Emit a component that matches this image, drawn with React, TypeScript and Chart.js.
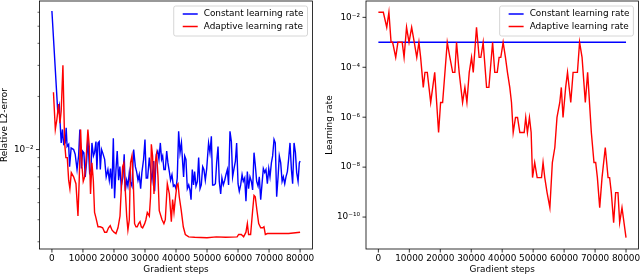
import React, { useEffect, useRef } from "react";
import { Chart, registerables } from "chart.js";
Chart.register(...registerables);

const FONT = "DejaVu Sans";

const stepTicks = [0, 10000, 20000, 30000, 40000, 50000, 60000, 70000, 80000];
const seriesLabels = ["Constant learning rate", "Adaptive learning rate"];
const seriesColors = ["#0000ff", "#ff0000"];

// Left panel: relative L2-error
const errConstSteps = [0, 1900, 2400, 2700, 3000, 3400, 3800, 4300, 4600, 4900, 5400, 5700, 6200, 7000, 7500, 8100, 8600, 9000, 9500, 9900, 10300, 10750, 11200, 11600, 12150, 12600, 12900, 13400, 13750, 14200, 14500, 14850, 15250, 15600, 16000, 16350, 17000, 17500, 18050, 18500, 18900, 19350, 19800, 20200, 20650, 21050, 21500, 21900, 22350, 22900, 23300, 23650, 24100, 24500, 24950, 25250, 25800, 26350, 26900, 27300, 27750, 28150, 28600, 29000, 29550, 30000, 30400, 30850, 31400, 31900, 32250, 32800, 33100, 33650, 34100, 34500, 34950, 35350, 35700, 36100, 36550, 37000, 37400, 37850, 38250, 38700, 39150, 39550, 40000, 40400, 40850, 41300, 41750, 42150, 42450, 42800, 43200, 43650, 44100, 44500, 44850, 45250, 45650, 46000, 46450, 46900, 47300, 47750, 48150, 48600, 49000, 49450, 49900, 50500, 50950, 51400, 51800, 52250, 52700, 53100, 53550, 53950, 54400, 54800, 55250, 55700, 56100, 56550, 56950, 57400, 57850, 58250, 58700, 59150, 59550, 60000, 60400, 60850, 61300, 61700, 62150, 62550, 63000, 63400, 63850, 64300, 64700, 65150, 65550, 66000, 66450, 66850, 67300, 67700, 68150, 68600, 69000, 69450, 69900, 70300, 70750, 71150, 71600, 72000, 72450, 72900, 73300, 73750, 74200, 74600, 75050, 75450, 75900, 76300, 76750, 77200, 77600, 78050, 78500, 78900, 79350, 79750, 80000];
const errConstValues = [0.061, 0.0162, 0.0177, 0.0136, 0.0109, 0.013, 0.0107, 0.0109, 0.0133, 0.0104, 0.0107, 0.008, 0.0102, 0.01, 0.0094, 0.0077, 0.0092, 0.013, 0.0078, 0.0098, 0.0096, 0.007, 0.0086, 0.0116, 0.0074, 0.0077, 0.0109, 0.0092, 0.0096, 0.0111, 0.0077, 0.0109, 0.0111, 0.0077, 0.01, 0.0096, 0.0088, 0.007, 0.0077, 0.0067, 0.0078, 0.006, 0.0116, 0.0053, 0.0077, 0.0098, 0.0067, 0.008, 0.0062, 0.007, 0.0094, 0.0058, 0.0067, 0.0062, 0.0074, 0.0066, 0.0062, 0.01, 0.008, 0.0075, 0.0067, 0.0072, 0.006, 0.0074, 0.0088, 0.0114, 0.0069, 0.0069, 0.009, 0.0074, 0.0067, 0.0086, 0.0058, 0.0094, 0.0098, 0.0088, 0.0109, 0.0088, 0.0092, 0.0077, 0.0077, 0.0098, 0.0084, 0.0075, 0.0067, 0.0072, 0.0062, 0.0063, 0.006, 0.0069, 0.0127, 0.0096, 0.0109, 0.0084, 0.007, 0.0092, 0.0088, 0.006, 0.0063, 0.0059, 0.0052, 0.0077, 0.0063, 0.0075, 0.0062, 0.0066, 0.009, 0.006, 0.0063, 0.008, 0.0077, 0.0067, 0.0078, 0.0109, 0.0096, 0.0119, 0.0063, 0.0063, 0.0064, 0.0084, 0.0104, 0.0066, 0.0056, 0.0069, 0.0063, 0.0067, 0.0072, 0.0077, 0.0063, 0.0127, 0.0111, 0.007, 0.0078, 0.0086, 0.0109, 0.0064, 0.0058, 0.0063, 0.0072, 0.0066, 0.0069, 0.0051, 0.0075, 0.006, 0.007, 0.0066, 0.0059, 0.0096, 0.0082, 0.0066, 0.0062, 0.007, 0.0052, 0.0063, 0.0078, 0.0074, 0.0077, 0.0064, 0.0078, 0.007, 0.0084, 0.0092, 0.0114, 0.0109, 0.0054, 0.007, 0.0092, 0.0084, 0.0066, 0.007, 0.0064, 0.007, 0.0075, 0.0088, 0.0109, 0.0077, 0.0064, 0.0109, 0.0096, 0.0074, 0.0066, 0.0084, 0.0086];

const errAdaptSteps = [500, 1100, 1600, 2150, 2600, 3000, 3550, 4100, 4500, 4950, 5400, 5800, 6250, 7000, 7750, 8400, 8800, 9250, 9700, 10100, 10550, 10950, 11600, 12050, 12450, 12900, 13350, 13750, 14200, 14850, 15600, 16350, 17000, 17650, 18250, 18800, 19350, 20000, 20650, 21300, 21950, 22350, 22800, 23200, 23650, 24100, 24500, 24950, 25350, 25800, 26250, 26650, 27100, 27500, 27950, 28400, 28800, 29250, 29900, 30300, 30750, 31400, 31800, 32050, 32450, 32900, 33300, 33750, 34200, 34600, 35500, 36100, 36550, 37200, 37850, 38500, 38900, 39350, 39750, 40300, 40650, 41050, 41700, 42350, 43000, 44100, 46000, 50000, 53000, 56000, 59700, 60200, 61050, 61800, 62550, 63000, 63400, 64050, 64700, 65150, 65550, 66100, 66650, 67300, 67950, 68350, 68800, 69450, 73000, 76300, 80000];
const errAdaptValues = [0.0211, 0.013, 0.0148, 0.0181, 0.0141, 0.0166, 0.03, 0.0109, 0.009, 0.009, 0.0067, 0.006, 0.0074, 0.007, 0.0064, 0.0042, 0.0067, 0.013, 0.008, 0.0066, 0.007, 0.0084, 0.013, 0.0104, 0.0056, 0.0084, 0.0067, 0.0044, 0.0041, 0.00365, 0.00365, 0.0036, 0.0034, 0.0034, 0.0036, 0.0037, 0.0035, 0.0034, 0.00334, 0.0036, 0.0042, 0.0059, 0.008, 0.0084, 0.0059, 0.0042, 0.0035, 0.004, 0.0084, 0.0092, 0.0064, 0.0038, 0.00365, 0.00365, 0.0038, 0.0039, 0.00365, 0.0036, 0.0038, 0.004, 0.0044, 0.0042, 0.0054, 0.0107, 0.0092, 0.0056, 0.0084, 0.0094, 0.007, 0.0045, 0.004, 0.0038, 0.004, 0.0064, 0.0056, 0.0039, 0.0052, 0.0044, 0.0052, 0.0063, 0.0064, 0.0054, 0.0045, 0.00365, 0.0033, 0.0032, 0.00318, 0.00316, 0.0032, 0.00318, 0.0032, 0.0033, 0.0033, 0.0032, 0.0034, 0.0038, 0.0033, 0.0033, 0.0045, 0.0055, 0.0054, 0.0045, 0.0038, 0.0036, 0.0036, 0.00365, 0.0033, 0.00334, 0.00334, 0.00334, 0.0034];

// Right panel: learning rate
const lrConstSteps = [0, 80000];
const lrConstValues = [1e-3, 1e-3];
const lrAdaptSteps = [0, 1600, 2700, 3400, 4100, 4600, 5600, 6300, 7700, 8300, 9100, 9900, 10750, 11600, 12400, 13100, 13650, 14500, 15050, 15800, 16900, 18200, 19450, 20100, 20750, 22250, 23100, 24000, 24700, 25250, 26100, 27200, 27950, 28600, 29350, 30100, 30650, 31700, 32550, 33100, 33850, 34950, 35700, 36900, 37600, 38400, 39000, 39550, 40300, 41050, 41700, 42450, 43000, 43550, 44300, 44950, 45700, 46450, 47100, 47600, 48150, 48800, 49350, 49800, 50500, 51300, 52150, 52700, 53200, 53750, 54500, 55400, 56200, 57000, 57700, 58600, 59100, 59650, 60500, 61100, 62150, 62900, 63750, 64300, 65000, 65800, 66850, 67600, 68800, 69650, 70200, 70750, 71500, 72250, 73300, 74200, 74700, 75250, 76000, 76650, 77400, 77950, 78700, 80000];
const lrAdaptValues = [1.6e-2, 1.6e-2, 4e-3, 1.6e-2, 1e-3, 1e-3, 2.5e-4, 1e-3, 1e-3, 2.5e-4, 4e-3, 1e-3, 4e-3, 1e-3, 2.5e-4, 1e-3, 2.5e-4, 1.56e-5, 6.25e-5, 6.25e-5, 3.9e-6, 6.25e-5, 2.44e-7, 3.9e-6, 3.9e-6, 1e-3, 2.5e-4, 6.25e-5, 6.25e-5, 1e-3, 6.25e-5, 3.9e-6, 1.56e-5, 3.9e-6, 6.25e-5, 2.5e-4, 6.25e-5, 4e-3, 2.5e-4, 2.5e-4, 1e-3, 1.56e-5, 1.56e-5, 1e-3, 6.25e-5, 6.25e-5, 2.5e-4, 2.5e-4, 1e-3, 2.5e-4, 6.25e-5, 1.56e-5, 3.9e-6, 2.44e-7, 9.77e-7, 9.77e-7, 2.44e-7, 2.44e-7, 2.44e-7, 9.77e-7, 2.44e-7, 9.77e-7, 2.44e-7, 3.81e-9, 1.53e-8, 3.81e-9, 3.81e-9, 3.81e-9, 1.53e-8, 3.81e-9, 9.54e-10, 2.38e-10, 1.53e-8, 6.1e-8, 9.77e-7, 3.9e-6, 1.56e-5, 9.77e-7, 1.56e-5, 6.25e-5, 3.9e-6, 6.25e-5, 6.25e-5, 6.25e-5, 1e-3, 2.5e-4, 3.9e-6, 6.25e-5, 2.44e-7, 1.53e-8, 1.53e-8, 3.81e-9, 2.38e-10, 3.81e-9, 6.1e-8, 3.81e-9, 3.81e-9, 9.54e-10, 5.96e-11, 9.54e-10, 9.54e-10, 5.96e-11, 2.38e-10, 1.49e-11];

const errTickValues = [3e-3, 4e-3, 5e-3, 6e-3, 7e-3, 8e-3, 9e-3, 1e-2, 2e-2, 3e-2, 4e-2, 5e-2, 6e-2];
const errMajorValues = [1e-2];
const errMajorLabels = ["10\u207B\u00B2"];
const lrTickValues = [1e-2, 1e-4, 1e-6, 1e-8, 1e-10];
const lrMajorValues = [1e-2, 1e-4, 1e-6, 1e-8, 1e-10];
const lrMajorLabels = ["10\u207B\u00B2", "10\u207B\u2074", "10\u207B\u2076", "10\u207B\u2078", "10\u207B\u00B9\u2070"];

const near = (a: number, b: number) => Math.abs(Math.log10(a) - Math.log10(b)) < 1e-6;

function pts(xs: number[], ys: number[]) {
  return xs.map((x, i) => ({ x, y: ys[i] }));
}

const framePlugin = {
  id: "frameTicks",
  afterDraw(chart: any, _a: any, opts: any) {
    const { ctx, chartArea } = chart;
    const { left, right, top, bottom } = chartArea;
    ctx.save();
    ctx.strokeStyle = "#000";
    ctx.lineWidth = 0.8;
    ctx.strokeRect(left, top, right - left, bottom - top);
    const xs = chart.scales.x;
    xs.ticks.forEach((t: any) => {
      const px = xs.getPixelForValue(t.value);
      ctx.beginPath();
      ctx.moveTo(px, bottom);
      ctx.lineTo(px, bottom + 3.5);
      ctx.stroke();
    });
    const ys = chart.scales.y;
    ys.ticks.forEach((t: any) => {
      const py = ys.getPixelForValue(t.value);
      const major = opts.majors.some((m: number) => near(m, t.value));
      ctx.lineWidth = major ? 0.8 : 0.6;
      ctx.beginPath();
      ctx.moveTo(left, py);
      ctx.lineTo(left - (major ? 3.5 : 2), py);
      ctx.stroke();
    });
    ctx.restore();
  },
};

const legendPlugin = {
  id: "innerLegend",
  afterDraw(chart: any) {
    const { ctx, chartArea } = chart;
    ctx.save();
    ctx.font = `8.9px "${FONT}"`;
    const tw = Math.max(...seriesLabels.map((s) => ctx.measureText(s).width));
    const w = 30 + tw + 4;
    const h = 30;
    const x0 = chartArea.right - 5 - w;
    const y0 = chartArea.top + 5;
    ctx.beginPath();
    const r = 2;
    ctx.moveTo(x0 + r, y0);
    ctx.arcTo(x0 + w, y0, x0 + w, y0 + h, r);
    ctx.arcTo(x0 + w, y0 + h, x0, y0 + h, r);
    ctx.arcTo(x0, y0 + h, x0, y0, r);
    ctx.arcTo(x0, y0, x0 + w, y0, r);
    ctx.closePath();
    ctx.fillStyle = "rgba(255,255,255,0.8)";
    ctx.fill();
    ctx.strokeStyle = "#cccccc";
    ctx.lineWidth = 0.8;
    ctx.stroke();
    seriesLabels.forEach((s, i) => {
      const yy = y0 + 8 + i * 12.5;
      ctx.strokeStyle = seriesColors[i];
      ctx.lineWidth = 1.5;
      ctx.beginPath();
      ctx.moveTo(x0 + 9, yy);
      ctx.lineTo(x0 + 24, yy);
      ctx.stroke();
      ctx.fillStyle = "#000";
      ctx.textBaseline = "middle";
      ctx.textAlign = "left";
      ctx.fillText(s, x0 + 30, yy);
    });
    ctx.restore();
  },
};

function buildConfig(p: {
  constData: any[];
  adaptData: any[];
  yMin: number;
  yMax: number;
  yTicks: number[];
  majors: number[];
  majorLabels: string[];
  yTitle: string;
  yWidth: number;
  yTitlePad: number;
  padRight: number;
}): any {
  const tickFont = { family: FONT, size: 8.9 };
  return {
    type: "line",
    data: {
      datasets: [
        {
          label: seriesLabels[1],
          data: p.adaptData,
          borderColor: seriesColors[1],
          borderWidth: 1.4,
          pointRadius: 0,
          tension: 0,
          fill: false,
        },
        {
          label: seriesLabels[0],
          data: p.constData,
          borderColor: seriesColors[0],
          borderWidth: 1.4,
          pointRadius: 0,
          tension: 0,
          fill: false,
        },
      ],
    },
    options: {
      animation: false,
      responsive: false,
      devicePixelRatio: 1,
      layout: { padding: { top: 1, right: p.padRight, left: 0, bottom: 0 } },
      plugins: {
        legend: { display: false },
        tooltip: { enabled: false },
        frameTicks: { majors: p.majors },
      },
      scales: {
        x: {
          type: "linear",
          bounds: "data",
          min: -4000,
          max: 84000,
          afterBuildTicks: (s: any) => {
            s.ticks = stepTicks.map((v) => ({ value: v }));
          },
          afterFit: (s: any) => {
            s.height = 27;
            s.paddingLeft = 0;
            s.paddingRight = 0;
            s.paddingTop = 0;
            s.paddingBottom = 0;
          },
          grid: { display: false, drawTicks: false },
          border: { display: false },
          ticks: {
            autoSkip: false,
            maxRotation: 0,
            padding: 4.5,
            color: "#000",
            font: tickFont,
            callback: (v: any) => String(v),
          },
          title: {
            display: true,
            text: "Gradient steps",
            color: "#000",
            font: { family: FONT, size: 8.9, lineHeight: 1 },
            padding: { top: 0, bottom: 2 },
          },
        },
        y: {
          type: "logarithmic",
          bounds: "data",
          min: p.yMin,
          max: p.yMax,
          afterBuildTicks: (s: any) => {
            s.ticks = p.yTicks.map((v) => ({ value: v }));
          },
          afterDataLimits: (s: any) => {
            s.min = p.yMin;
            s.max = p.yMax;
          },
          afterFit: (s: any) => {
            s.width = p.yWidth;
            s.paddingLeft = 0;
            s.paddingRight = 0;
            s.paddingTop = 0;
            s.paddingBottom = 0;
          },
          grid: { display: false, drawTicks: false },
          border: { display: false },
          ticks: {
            autoSkip: false,
            padding: 6,
            color: "#000",
            font: tickFont,
            callback: (v: any) => {
              const i = p.majors.findIndex((m) => near(m, Number(v)));
              return i >= 0 ? p.majorLabels[i] : "";
            },
          },
          title: {
            display: true,
            text: p.yTitle,
            color: "#000",
            font: { family: FONT, size: 8.9, lineHeight: 1 },
            padding: { top: p.yTitlePad, bottom: 0 },
          },
        },
      },
    },
    plugins: [framePlugin, legendPlugin],
  };
}

function Panel(props: { cfg: any; left: number }) {
  const ref = useRef<HTMLCanvasElement | null>(null);
  useEffect(() => {
    if (!ref.current) return;
    const chart = new Chart(ref.current, props.cfg);
    return () => chart.destroy();
  }, []);
  return (
    <canvas
      ref={ref}
      width={320}
      height={276}
      style={{ position: "absolute", left: props.left, top: 0, width: 320, height: 276 }}
    />
  );
}

export default function App() {
  const leftCfg = buildConfig({
    constData: pts(errConstSteps, errConstValues),
    adaptData: pts(errAdaptSteps, errAdaptValues),
    yMin: 2.73e-3,
    yMax: 0.0695,
    yTicks: errTickValues,
    majors: errMajorValues,
    majorLabels: errMajorLabels,
    yTitle: "Relative L2-error",
    yWidth: 39.5,
    yTitlePad: 0,
    padRight: 7.5,
  });
  const rightCfg = buildConfig({
    constData: pts(lrConstSteps, lrConstValues),
    adaptData: pts(lrAdaptSteps, lrAdaptValues),
    yMin: 5.25e-12,
    yMax: 0.0452,
    yTicks: lrTickValues,
    majors: lrMajorValues,
    majorLabels: lrMajorLabels,
    yTitle: "Learning rate",
    yWidth: 46,
    yTitlePad: 5.5,
    padRight: 1.6,
  });
  return (
    <div style={{ position: "fixed", left: 0, top: 0, width: 640, height: 276, background: "#fff" }}>
      <Panel cfg={leftCfg} left={0} />
      <Panel cfg={rightCfg} left={320} />
    </div>
  );
}
